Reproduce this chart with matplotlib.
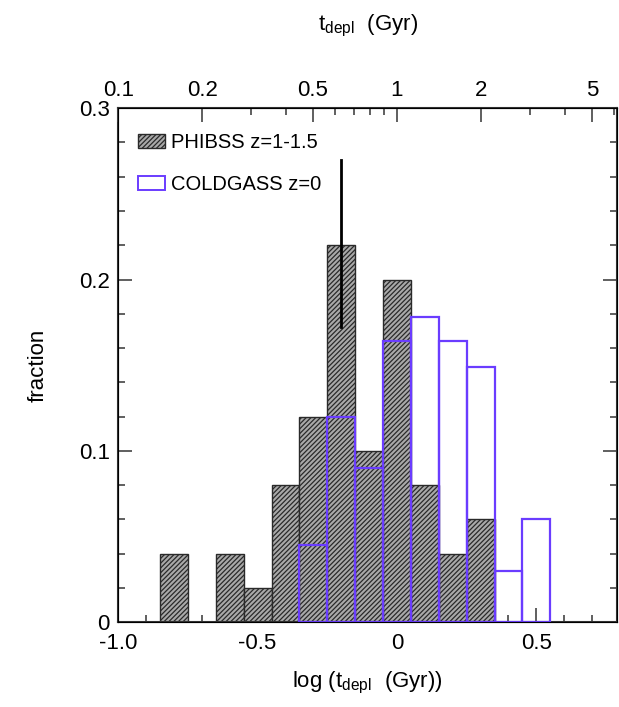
import numpy as np
import matplotlib
matplotlib.use("Agg")
import matplotlib.pyplot as plt
from matplotlib.patches import Patch

plt.rcParams['font.family'] = ['Liberation Sans', 'DejaVu Sans']
plt.rcParams['mathtext.fontset'] = 'custom'
plt.rcParams['mathtext.rm'] = 'Liberation Sans'
plt.rcParams['mathtext.it'] = 'Liberation Sans:italic'
plt.rcParams['hatch.linewidth'] = 0.9

# histogram bins (bin centres in log t_depl, width 0.1)
phibss_centres = [-0.8, -0.6, -0.5, -0.4, -0.3, -0.2, -0.1, 0.0, 0.1, 0.2, 0.3]
phibss_frac = [0.04, 0.04, 0.02, 0.08, 0.12, 0.22, 0.10, 0.20, 0.08, 0.04, 0.06]

coldgass_centres = [-0.3, -0.2, -0.1, 0.0, 0.1, 0.2, 0.3, 0.4, 0.5]
coldgass_frac = [0.045, 0.12, 0.09, 0.164, 0.178, 0.164, 0.149, 0.030, 0.060]

# error bar on the peak bin
err_x = -0.2
err_lo, err_hi = 0.172, 0.27

top_ticks = [0.1, 0.2, 0.5, 1, 2, 5]
top_labels = ["0.1", "0.2", "0.5", "1", "2", "5"]
top_minor = [0.3, 0.4, 0.6, 0.7, 0.8, 0.9, 3, 4, 6]

purple = "#6a3cff"
gray = "#a9a9a9"
width = 0.1

fig = plt.figure(figsize=(6.19, 7.07), dpi=100)
ax = fig.add_axes([0.191, 0.120, 0.806, 0.727])

ax.bar(phibss_centres, phibss_frac, width=width, facecolor=gray,
       edgecolor="#2a2a2a", hatch="///////", linewidth=1.0, zorder=2)
ax.bar(coldgass_centres, coldgass_frac, width=width, facecolor="none",
       edgecolor=purple, linewidth=1.6, zorder=3)
ax.plot([err_x, err_x], [err_lo, err_hi], color="black", lw=2, zorder=4)

ax.set_xlim(-1.0, 0.79)
ax.set_ylim(0, 0.3)
ax.set_xticks([-1.0, -0.5, 0, 0.5])
ax.set_xticklabels(["-1.0", "-0.5", "0", "0.5"])
ax.set_xticks(np.arange(-1.0, 0.8, 0.1), minor=True)
ax.set_yticks([0, 0.1, 0.2, 0.3])
ax.set_yticklabels(["0", "0.1", "0.2", "0.3"])
ax.set_yticks(np.arange(0, 0.3, 0.02), minor=True)
ax.tick_params(which="both", direction="in", top=False, right=True,
               labelsize=16, width=1.2, color="#444444")
ax.tick_params(which="major", length=10, pad=6)
ax.tick_params(axis="x", which="major", pad=8)
ax.tick_params(which="minor", length=5)
for s in ax.spines.values():
    s.set_linewidth(1.5)
    s.set_color("#333333")

ax.set_ylabel("fraction", fontsize=16, labelpad=22)
ax.set_xlabel(r"log (t$_{\mathrm{depl}}$  (Gyr))", fontsize=16, labelpad=11)

# top axis in linear Gyr
top = ax.twiny()
top.set_xlim(ax.get_xlim())
top.set_xticks(np.log10(top_ticks))
top.set_xticklabels(top_labels)
top.set_xticks(np.log10(top_minor), minor=True)
top.tick_params(which="both", direction="in", labelsize=16, width=1.2,
                color="#444444")
top.tick_params(which="major", length=10, pad=5)
top.tick_params(which="minor", length=5)
top.set_xlabel(r"t$_{\mathrm{depl}}$  (Gyr)", fontsize=16, labelpad=36)

handles = [Patch(facecolor=gray, edgecolor="#2a2a2a", hatch="///////"),
           Patch(facecolor="none", edgecolor=purple, linewidth=1.4)]
ax.legend(handles, ["PHIBSS z=1-1.5", "COLDGASS z=0"], loc="upper left",
          frameon=False, fontsize=14.5, handlelength=1.3, handleheight=0.7,
          handletextpad=0.3, labelspacing=1.1, borderaxespad=0.6,
          bbox_to_anchor=(0.0, 0.99))

fig.savefig("out.png", dpi=100)
